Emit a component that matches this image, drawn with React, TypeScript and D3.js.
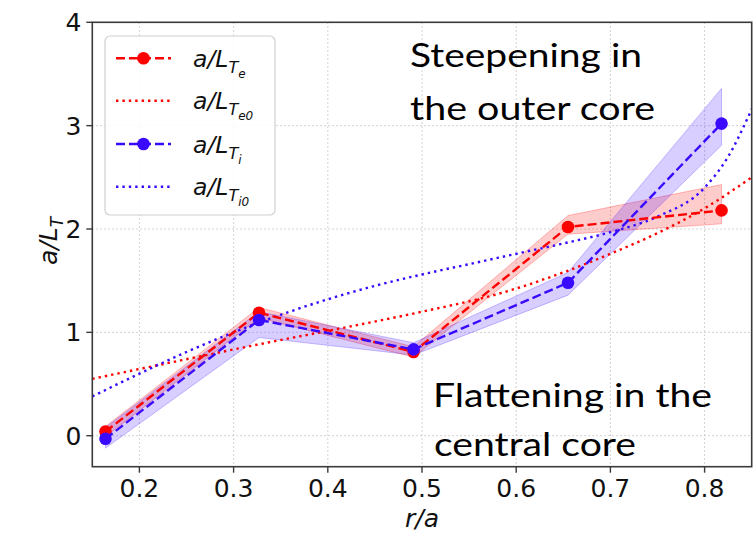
import React from "react";
import * as d3 from "d3";

// Radial positions of the measured gradients
const rPoints = [0.164, 0.327, 0.491, 0.655, 0.818];

// Electron temperature gradient a/L_Te with its uncertainty band
const teValues = [0.04, 1.19, 0.81, 2.02, 2.18];
const teLower = [-0.01, 1.14, 0.76, 1.95, 2.05];
const teUpper = [0.09, 1.24, 0.86, 2.13, 2.43];

// Ion temperature gradient a/L_Ti with its uncertainty band
const tiValues = [-0.03, 1.12, 0.835, 1.48, 3.02];
const tiLower = [-0.12, 0.95, 0.78, 1.36, 2.81];
const tiUpper = [0.08, 1.2, 0.9, 1.58, 3.36];

// Reference profiles a/L_Te0 and a/L_Ti0
const te0R = [0.15, 0.25, 0.33, 0.42, 0.5, 0.58, 0.65, 0.7, 0.75, 0.8, 0.85];
const te0Values = [0.55, 0.74, 0.89, 1.05, 1.2, 1.37, 1.58, 1.76, 1.96, 2.2, 2.5];
const ti0R = [0.15, 0.2, 0.25, 0.3, 0.35, 0.4, 0.45, 0.5, 0.55, 0.6, 0.65, 0.7, 0.75, 0.8, 0.825, 0.85];
const ti0Values = [0.38, 0.6, 0.81, 1.0, 1.17, 1.32, 1.45, 1.56, 1.66, 1.76, 1.86, 1.97, 2.12, 2.4, 2.7, 3.16];

const xTicks = [0.2, 0.3, 0.4, 0.5, 0.6, 0.7, 0.8];
const yTicks = [0, 1, 2, 3, 4];

const RED = "#ff0000";
const BLUE = "#3a0aff";
const AXIS_FONT = "'DejaVu Sans', sans-serif";
const NOTE_FONT = "Lato, 'Open Sans', sans-serif";

const W = 753;
const H = 537;
const left = 92.3;
const right = 751.7;
const top = 22.3;
const bottom = 466.7;

export default function App() {
  const x = d3.scaleLinear().domain([0.15, 0.85]).range([left, right]);
  const y = d3.scaleLinear().domain([-0.3, 4]).range([bottom, top]);

  const line = d3
    .line<[number, number]>()
    .x((d) => x(d[0]))
    .y((d) => y(d[1]));
  const smooth = d3
    .line<[number, number]>()
    .x((d) => x(d[0]))
    .y((d) => y(d[1]))
    .curve(d3.curveMonotoneX);

  const bandPath = (lo: number[], hi: number[]) =>
    d3
      .area<number>()
      .x((_, i) => x(rPoints[i]))
      .y0((d) => y(d))
      .y1((_, i) => y(hi[i]))(lo) as string;

  const teLine = rPoints.map((r, i) => [r, teValues[i]] as [number, number]);
  const tiLine = rPoints.map((r, i) => [r, tiValues[i]] as [number, number]);
  const te0Line = te0R.map((r, i) => [r, te0Values[i]] as [number, number]);
  const ti0Line = ti0R.map((r, i) => [r, ti0Values[i]] as [number, number]);

  const legendRows = [
    { color: RED, kind: "dash", sub: "e", y: 58.3 },
    { color: RED, kind: "dot", sub: "e0", y: 100.7 },
    { color: BLUE, kind: "dash", sub: "i", y: 144 },
    { color: BLUE, kind: "dot", sub: "i0", y: 186.7 },
  ];

  return (
    <div style={{ position: "absolute", left: 0, top: 0 }}>
      <svg width={W} height={H} style={{ display: "block", background: "#fff" }}>
        <defs>
          <clipPath id="plot-area">
            <rect x={left} y={top} width={right - left} height={bottom - top} />
          </clipPath>
        </defs>

        {/* grid */}
        <g stroke="#c4c4c4" strokeWidth={1} strokeDasharray="1.5,2.5">
          {xTicks.map((t) => (
            <line key={"gx" + t} x1={x(t)} x2={x(t)} y1={top} y2={bottom} />
          ))}
          {yTicks.map((t) => (
            <line key={"gy" + t} x1={left} x2={right} y1={y(t)} y2={y(t)} />
          ))}
        </g>

        <g clipPath="url(#plot-area)">
          {/* uncertainty bands */}
          <path d={bandPath(teLower, teUpper)} fill={RED} fillOpacity={0.2} stroke={RED} strokeOpacity={0.25} strokeWidth={1} />
          <path d={bandPath(tiLower, tiUpper)} fill={BLUE} fillOpacity={0.2} stroke={BLUE} strokeOpacity={0.25} strokeWidth={1} />

          {/* reference profiles */}
          <path d={smooth(te0Line) as string} fill="none" stroke={RED} strokeWidth={2.4} strokeDasharray="2.4,4" />
          <path d={smooth(ti0Line) as string} fill="none" stroke={BLUE} strokeWidth={2.4} strokeDasharray="2.4,4" />

          {/* measured gradients */}
          <path d={line(teLine) as string} fill="none" stroke={RED} strokeWidth={2.4} strokeDasharray="9,4" />
          {teLine.map((d, i) => (
            <circle key={"te" + i} cx={x(d[0])} cy={y(d[1])} r={6.3} fill={RED} />
          ))}
          <path d={line(tiLine) as string} fill="none" stroke={BLUE} strokeWidth={2.4} strokeDasharray="9,4" />
          {tiLine.map((d, i) => (
            <circle key={"ti" + i} cx={x(d[0])} cy={y(d[1])} r={6.3} fill={BLUE} />
          ))}
        </g>

        {/* spines */}
        <rect x={left} y={top} width={right - left} height={bottom - top} fill="none" stroke="#3a3a3a" strokeWidth={1.6} />

        {/* axes */}
        <g fontFamily={AXIS_FONT} fontSize={25} fill="#111">
          {xTicks.map((t) => (
            <g key={"xt" + t}>
              <line x1={x(t)} x2={x(t)} y1={bottom} y2={bottom + 6} stroke="#3a3a3a" strokeWidth={1.4} />
              <text x={x(t)} y={bottom + 30} textAnchor="middle">
                {t.toFixed(1)}
              </text>
            </g>
          ))}
          {yTicks.map((t) => (
            <g key={"yt" + t}>
              <line x1={left - 6} x2={left} y1={y(t)} y2={y(t)} stroke="#3a3a3a" strokeWidth={1.4} />
              <text x={left - 11} y={y(t) + 9} textAnchor="end">
                {t}
              </text>
            </g>
          ))}
          <text x={(left + right) / 2} y={527} textAnchor="middle" fontStyle="italic">
            r/a
          </text>
          <text transform="translate(57,241) rotate(-90)" textAnchor="middle" fontStyle="italic">
            a/L<tspan fontSize={17} dy={6}>T</tspan>
          </text>
        </g>

        {/* legend */}
        <g>
          <rect x={105} y={36} width={170} height={179} rx={5} fill="#fff" fillOpacity={0.85} stroke="#d0d0d0" strokeWidth={1.2} />
          {legendRows.map((row, i) => (
            <g key={"lg" + i}>
              <line
                x1={116}
                x2={171}
                y1={row.y}
                y2={row.y}
                stroke={row.color}
                strokeWidth={2.4}
                strokeDasharray={row.kind === "dash" ? "9,4" : "2.4,4"}
              />
              {row.kind === "dash" && <circle cx={143.5} cy={row.y} r={6.3} fill={row.color} />}
              <text x={193} y={row.y + 8.5} fontFamily={AXIS_FONT} fontStyle="italic" fontSize={23.5} fill="#111">
                a/L
                <tspan fontSize={16} dy={6}>T</tspan>
                <tspan fontSize={12} dy={5}>{row.sub}</tspan>
              </text>
            </g>
          ))}
        </g>

        {/* annotations */}
        <g fontFamily={NOTE_FONT} fontSize={33} fill="#000">
          <text x={410} y={67} textLength={232} lengthAdjust="spacingAndGlyphs">Steepening in</text>
          <text x={410} y={120} textLength={245} lengthAdjust="spacingAndGlyphs">the outer core</text>
          <text x={433} y={407} textLength={279} lengthAdjust="spacingAndGlyphs">Flattening in the</text>
          <text x={434} y={456} textLength={202} lengthAdjust="spacingAndGlyphs">central core</text>
        </g>
      </svg>
    </div>
  );
}
